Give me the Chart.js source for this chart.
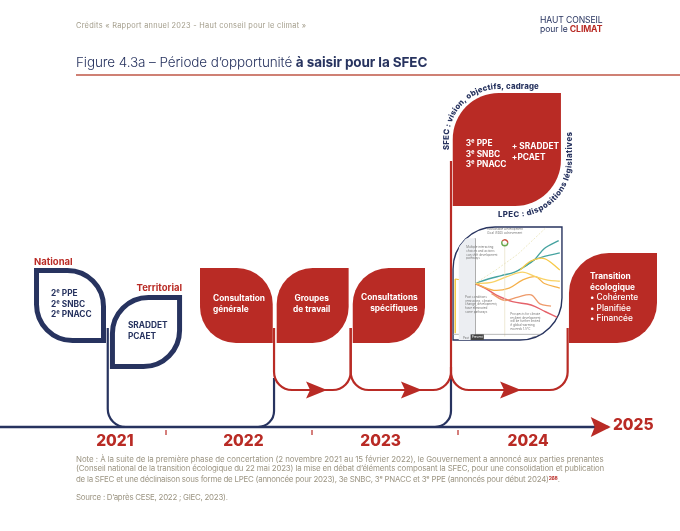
<!DOCTYPE html>
<html lang="fr">
<head>
<meta charset="utf-8">
<title>Figure 4.3a</title>
<script src="https://cdn.jsdelivr.net/npm/chart.js@4"></script>
<style>
    body { margin: 0; background: #fff; font-family: Inter, sans-serif; }
    #page { position: relative; width: 680px; height: 531px; overflow: hidden; }
    #timeline { position: absolute; left: 0; top: 0; }
    #inset {
        position: absolute; left: 453px; top: 227px;
        clip-path: path('M0 113 L0 42 A42 42 0 0 1 42 0 L109 0 L109 71 A42 42 0 0 1 67 113 Z');
    }
    .txt { position: absolute; white-space: nowrap; }
    #credit { left: 76px; top: 21px; font-size: 7.4px; color: #a29c8a; letter-spacing: 0.28px; }
    #logo { left: 540px; top: 16px; font-size: 8.6px; line-height: 9.4px; color: #27335f; letter-spacing: -0.1px; }
    #logo b { color: #b92b25; }
    #title { left: 76px; top: 54px; font-size: 13.5px; color: #27335f; font-weight: 300; letter-spacing: -0.1px; }
    #title b { font-weight: 700; }
    #rule { position: absolute; left: 76px; top: 74px; width: 604px; height: 2px; background: #cf8074; }
    #note { left: 76px; top: 455px; font-size: 7.9px; line-height: 9.3px; color: #9c9583; }
    #note b { color: #b92b25; font-size: 5px; vertical-align: 2.5px; }
    #line1 { letter-spacing: -0.05px; }
    #line2 { letter-spacing: -0.148px; }
    #line3 { letter-spacing: -0.23px; }
    #source { left: 76px; top: 492px; font-size: 7.9px; color: #9c9583; letter-spacing: -0.25px; }
</style>
</head>
<body>
<div id="page">
    <canvas id="timeline" width="680" height="531"></canvas>
    <canvas id="inset" width="109" height="113"></canvas>
    <div class="txt" id="credit">Crédits « Rapport annuel 2023 - Haut conseil pour le climat »</div>
    <div class="txt" id="logo">HAUT CONSEIL<br>pour le <b>CLIMAT</b></div>
    <div class="txt" id="title">Figure 4.3a – Période d’opportunité <b>à saisir pour la SFEC</b></div>
    <div id="rule"></div>
    <div class="txt" id="note"><span id="line1">Note : À la suite de la première phase de concertation (2 novembre 2021 au 15 février 2022), le Gouvernement a annoncé aux parties prenantes</span><br><span id="line2">(Conseil national de la transition écologique du 22 mai 2023) la mise en débat d’éléments composant la SFEC, pour une consolidation et publication</span><br><span id="line3">de la SFEC et une déclinaison sous forme de LPEC (annoncée pour 2023), 3e SNBC, 3ᵉ PNACC et 3ᵉ PPE (annoncés pour début 2024)<b>268</b>.</span></div>
    <div class="txt" id="source">Source : D’après CESE, 2022 ; GIEC, 2023).</div>
</div>
<script>
// timeline values: x is the year, y is the height above the time axis
const yearLabels = ['2021', '2022', '2023', '2024', '2025'];
const yearLabelAt = [2021.65, 2022.53, 2023.47, 2024.48, 2025.2];
const yearTicks = [2022, 2023, 2024];
const axisFrom = 2020.863;
const axisTo = 2025.03;

const leafFrom = [2021.096, 2021.616, 2022.233, 2022.758, 2023.279, 2023.964, 2024.760];
const leafTo = [2021.589, 2022.110, 2022.731, 2023.251, 2023.774, 2024.705, 2025.363];
const leafBase = [84, 58, 84, 84, 84, 221, 84];
const leafTop = [159, 132, 159, 159, 159, 334, 174];
const leafLines = [
    ['2ᵉ PPE', '2ᵉ SNBC', '2ᵉ PNACC'],
    ['SRADDET', 'PCAET'],
    ['Consultation', 'générale'],
    ['Groupes', 'de travail'],
    ['Consultations', 'spécifiques'],
    ['3ᵉ PPE', '3ᵉ SNBC', '3ᵉ PNACC'],
    ['Transition', 'écologique', '• Cohérente', '• Planifiée', '• Financée']
];
const sfecExtra = ['+ SRADDET', '+PCAET'];
const scaleTitles = ['National', 'Territorial'];
const curvedTop = 'SFEC : vision, objectifs, cadrage';
const curvedBottom = 'LPEC : dispositions législatives';

// branches as [year, height] bends
const navyBranches = [
    [[2021.601, 99], [2021.601, 0], [2021.75, 0]],
    [[2022.62, 0], [2022.74, 0], [2022.74, 49]],
    [[2023.84, 0], [2023.952, 0], [2023.952, 52]]
];
const redBranches = [
    [[2022.74, 99], [2022.74, 37], [2023.265, 37], [2023.265, 99]],
    [[2023.265, 99], [2023.265, 37], [2023.952, 37], [2023.952, 266]],
    [[2023.952, 60], [2023.952, 37], [2024.751, 37], [2024.751, 99]]
];
const arrowTips = [2023.103, 2023.753, 2024.432];
const axisArrowTip = 2025.046;

// small pathway figure: x is the year, y an index of development
const pastYears = [2006, 2021];
const pastBand = [90, 90];
const presentLine = [[2021, 0], [2021, 90]];
const sdgLine = [[2048, 3], [2048, 86]];
const windowLine = [[2021, 50], [2040, 62], [2060, 76], [2085, 99]];
const pastLine = [[2003, 54], [2014, 52], [2021, 50]];
const pastStart = [[2003, 6], [2003, 54]];
const baseLine = [[2001, 5], [2100, 5]];
const tealMain = [[2021, 50], [2033, 54], [2045, 57], [2057, 60], [2066, 65], [2075, 71], [2084, 81], [2097, 88]];
const tealSide = [[2066, 65], [2075, 71], [2084, 74], [2098, 77]];
const yellowHigh = [[2062, 62], [2072, 70], [2084, 72], [2098, 62]];
const yellowMid = [[2021, 50], [2036, 51], [2050, 56], [2064, 60], [2076, 56], [2087, 53], [2098, 52]];
const amberMid = [[2021, 50], [2038, 44], [2052, 46], [2064, 53], [2076, 56], [2084, 50], [2098, 46]];
const redMain = [[2021, 50], [2030, 46], [2040, 40], [2055, 34], [2072, 31], [2085, 25], [2098, 19]];
const redLow = [[2036, 41], [2048, 35], [2060, 38], [2072, 40], [2080, 32], [2090, 30]];
const insetNotes = ['Sustainable Development', 'Goal (SDG) achievement'];
const insetChoices = ['Multiple interacting', 'choices and actions', 'can shift development', 'pathways'];
const insetPast = ['Past conditions', '(emissions, climate', 'change, development)', 'have eliminated', 'some pathways'];
const insetRisk = ['Prospects for climate', 'resilient development', 'will be further limited', 'if global warming', 'exceeds 1.5°C'];
const insetAxis = ['Past', 'Present', '2100'];

const navy = '#27335f';
const red = '#b92b25';
const leafOutlined = [true, true, false, false, false, false, false];
const leafRoundsTopLeft = [false, true, false, true, true, true, true];
const leafRadius = [36, 36, 36, 36, 36, 46, 40];
const labelOffset = [[17, 26, 'left'], [18, 31, 'left'], [13, 31, 'left'], [35, 31, 'center'], [65, 30, 'right'], [13, 51, 'left'], [21, 24, 'left']];
const lineGap = [10.5, 11, 11, 11, 11, 10.5, 10.5];
const fontName = 'Inter, sans-serif';

function drawBend(ctx, scales, bends, radius) {
    const pts = bends.map(b => [scales.x.getPixelForValue(b[0]), scales.y.getPixelForValue(b[1])]);
    ctx.beginPath();
    ctx.moveTo(pts[0][0], pts[0][1]);
    for (let i = 1; i < pts.length - 1; i++) {
        ctx.arcTo(pts[i][0], pts[i][1], pts[i + 1][0], pts[i + 1][1], radius);
    }
    ctx.lineTo(pts[pts.length - 1][0], pts[pts.length - 1][1]);
    ctx.stroke();
}

function drawArrow(ctx, tipX, y, length, half) {
    ctx.beginPath();
    ctx.moveTo(tipX, y);
    ctx.lineTo(tipX - length, y - half);
    ctx.lineTo(tipX - length + 4, y);
    ctx.lineTo(tipX - length, y + half);
    ctx.closePath();
    ctx.fill();
}

// lays the text out along a path given by pointAt(distance)
function drawAlong(ctx, text, length, pointAt) {
    const chars = Array.from(text);
    const widths = chars.map(c => ctx.measureText(c).width);
    const used = widths.reduce((a, b) => a + b, 0);
    const gap = (length - used) / (chars.length - 1);
    let s = 0;
    ctx.textAlign = 'center';
    ctx.textBaseline = 'alphabetic';
    chars.forEach((c, i) => {
        const p = pointAt(s + widths[i] / 2);
        ctx.save();
        ctx.translate(p.x, p.y);
        ctx.rotate(p.angle);
        ctx.fillText(c, 0, 0);
        ctx.restore();
        s += widths[i] + gap;
    });
}

const timelinePlugin = {
    id: 'timelineMarks',
    afterDatasetsDraw(chart) {
        const ctx = chart.ctx;
        const scales = chart.scales;
        const px = v => scales.x.getPixelForValue(v);
        const py = v => scales.y.getPixelForValue(v);
        ctx.save();

        // leaves
        leafFrom.forEach((from, i) => {
            const x = px(from), y = py(leafTop[i]);
            const w = px(leafTo[i]) - x, h = py(leafBase[i]) - y;
            const r = leafRadius[i];
            const corners = leafRoundsTopLeft[i] ? [r, 0, r, 0] : [0, r, 0, r];
            ctx.beginPath();
            if (leafOutlined[i]) {
                ctx.roundRect(x + 2.5, y + 2.5, w - 5, h - 5, corners);
                ctx.lineWidth = 5;
                ctx.strokeStyle = navy;
                ctx.stroke();
            } else {
                ctx.roundRect(x, y, w, h, corners);
                ctx.fillStyle = red;
                ctx.fill();
            }
        });

        // frame of the small figure
        ctx.beginPath();
        ctx.roundRect(px(2023.966), py(200), px(2024.712) - px(2023.966), py(87) - py(200), [42, 0, 42, 0]);
        ctx.fillStyle = '#fff';
        ctx.fill();
        ctx.lineWidth = 1.4;
        ctx.strokeStyle = navy;
        ctx.stroke();

        // branches
        ctx.lineWidth = 2.2;
        ctx.strokeStyle = navy;
        navyBranches.forEach((b, i) => drawBend(ctx, scales, b, i === 0 ? 18 : 16));
        ctx.strokeStyle = red;
        redBranches.forEach(b => drawBend(ctx, scales, b, 18));
        ctx.fillStyle = red;
        arrowTips.forEach(t => drawArrow(ctx, px(t), py(37), 21, 8.5));
        drawArrow(ctx, px(axisArrowTip), py(0), 20, 10);

        // leaf labels
        ctx.textBaseline = 'middle';
        leafLines.forEach((lines, i) => {
            const [dx, dy, align] = labelOffset[i];
            ctx.textAlign = align;
            ctx.fillStyle = leafOutlined[i] ? navy : '#fff';
            lines.forEach((line, j) => {
                const plain = i === 6 && j > 1;
                ctx.font = (plain ? '500 ' : '700 ') + '8.3px ' + fontName;
                ctx.fillText(line, px(leafFrom[i]) + dx, py(leafTop[i]) + dy + j * lineGap[i]);
            });
        });
        ctx.textAlign = 'left';
        ctx.fillStyle = '#fff';
        ctx.font = '700 8.3px ' + fontName;
        sfecExtra.forEach((line, j) => ctx.fillText(line, px(leafFrom[5]) + 59, py(leafTop[5]) + 54 + j * 10.5));

        // National / Territorial
        ctx.fillStyle = red;
        ctx.font = '700 9.5px ' + fontName;
        ctx.fillText(scaleTitles[0], px(leafFrom[0]), py(leafTop[0]) - 6);
        ctx.textAlign = 'right';
        ctx.fillText(scaleTitles[1], px(leafTo[1]), py(leafTop[1]) - 7);

        // years
        ctx.font = '800 15.5px ' + fontName;
        ctx.textAlign = 'center';
        yearLabels.forEach((label, i) => {
            ctx.fillText(label, px(yearLabelAt[i]), py(i === 4 ? 2 : -14));
        });

        // text bent around the SFEC leaf
        const sx0 = px(leafFrom[5]), sx1 = px(leafTo[5]);
        const sy0 = py(leafTop[5]), sy1 = py(leafBase[5]);
        const r = leafRadius[5];
        ctx.fillStyle = navy;
        ctx.font = '800 7.8px ' + fontName;
        const topR = r + 4, cx1 = sx0 + r, cy1 = sy0 + r, startUp = sy0 + 57 - cy1;
        const topArc = topR * Math.PI / 2;
        drawAlong(ctx, curvedTop, startUp + topArc + 40, s => {
            if (s < startUp) return { x: cx1 - topR, y: cy1 + startUp - s, angle: -Math.PI / 2 };
            if (s < startUp + topArc) {
                const a = (s - startUp) / topR;
                return { x: cx1 - topR * Math.cos(a), y: cy1 - topR * Math.sin(a), angle: a - Math.PI / 2 };
            }
            return { x: cx1 + s - startUp - topArc, y: cy1 - topR, angle: 0 };
        });
        const lowR = r + 11, cx2 = sx1 - r, cy2 = sy1 - r, lead = 17;
        const lowArc = lowR * Math.PI / 2;
        drawAlong(ctx, curvedBottom, lead + lowArc + 28, s => {
            if (s < lead) return { x: cx2 - lead + s, y: cy2 + lowR, angle: 0 };
            if (s < lead + lowArc) {
                const a = (s - lead) / lowR;
                return { x: cx2 + lowR * Math.sin(a), y: cy2 + lowR * Math.cos(a), angle: -a };
            }
            return { x: cx2 + lowR, y: cy2 - (s - lead - lowArc), angle: -Math.PI / 2 };
        });
        ctx.restore();
    }
};

new Chart(document.getElementById('timeline'), {
    type: 'scatter',
    data: {
        datasets: [
            {
                data: [{ x: axisFrom, y: 0 }, { x: axisTo, y: 0 }],
                showLine: true, borderColor: navy, borderWidth: 2.4, pointRadius: 0
            },
            {
                data: yearTicks.flatMap(t => [{ x: t, y: -3 }, { x: t, y: -8 }, { x: t, y: null }]),
                showLine: true, borderColor: red, borderWidth: 1.2, pointRadius: 0, spanGaps: false
            }
        ]
    },
    options: {
        responsive: false,
        animation: false,
        layout: { padding: 0 },
        plugins: { legend: { display: false }, tooltip: { enabled: false } },
        scales: {
            x: { type: 'linear', display: false, min: 2020.863, max: 2025.5205 },
            y: { type: 'linear', display: false, min: -104, max: 427 }
        }
    },
    plugins: [timelinePlugin]
});

const toPoints = pairs => pairs.map(p => ({ x: p[0], y: p[1] }));
const pathLine = (pairs, color, width, extra) => Object.assign({
    data: toPoints(pairs), showLine: true, borderColor: color, borderWidth: width, pointRadius: 0, tension: 0.35
}, extra);

const insetTextPlugin = {
    id: 'insetText',
    afterDatasetsDraw(chart) {
        const ctx = chart.ctx;
        const px = v => chart.scales.x.getPixelForValue(v);
        const py = v => chart.scales.y.getPixelForValue(v);
        const block = (lines, year, index, align) => {
            ctx.textAlign = align;
            lines.forEach((line, i) => ctx.fillText(line, px(year), py(index) + i * 3.6));
        };
        ctx.save();
        ctx.font = '3px ' + fontName;
        ctx.fillStyle = '#777';
        block(insetNotes, 2048, 97, 'center');
        block(insetChoices, 2013, 81, 'left');
        block(insetPast, 2012, 37, 'left');
        block(insetRisk, 2053, 22, 'left');
        ctx.fillStyle = '#444';
        ctx.fillRect(px(2017), py(5), px(2029) - px(2017), 6);
        ctx.fillStyle = '#777';
        ctx.fillText(insetAxis[0], px(2010), py(1));
        ctx.fillText(insetAxis[2], px(2073), py(1));
        ctx.fillStyle = '#fff';
        ctx.textAlign = 'center';
        ctx.fillText(insetAxis[1], px(2023), py(1.5));
        // SDG wheel
        ctx.lineWidth = 1.4;
        ctx.strokeStyle = '#6aa84f';
        ctx.beginPath();
        ctx.arc(px(2048), py(86), 3, 0, Math.PI * 1.2);
        ctx.stroke();
        ctx.strokeStyle = '#c8503c';
        ctx.beginPath();
        ctx.arc(px(2048), py(86), 3, Math.PI * 1.2, Math.PI * 2);
        ctx.stroke();
        ctx.restore();
    }
};

new Chart(document.getElementById('inset'), {
    type: 'scatter',
    data: {
        datasets: [
            {
                data: pastYears.map((y, i) => ({ x: y, y: pastBand[i] })),
                showLine: true, borderWidth: 0, pointRadius: 0, fill: 'origin', backgroundColor: '#eceef2'
            },
            pathLine(baseLine, '#999', 0.7, { tension: 0 }),
            pathLine(sdgLine, '#e6dfc4', 0.7, { tension: 0 }),
            pathLine(windowLine, '#e9e3b8', 0.8, { borderDash: [2, 1.5], tension: 0 }),
            pathLine(presentLine, '#7c7c7c', 1.2, { tension: 0 }),
            pathLine(pastStart, '#f2c230', 1.4, { tension: 0 }),
            pathLine(pastLine, '#f2c230', 1),
            pathLine(yellowHigh, '#f7c948', 1.3),
            pathLine(yellowMid, '#f9d265', 1.3),
            pathLine(amberMid, '#f5b04a', 1.3),
            pathLine(redLow, '#ee9a6a', 1.3),
            pathLine(redMain, '#e5626a', 1.4),
            pathLine(tealSide, '#46a3a0', 1.3),
            pathLine(tealMain, '#46a3a0', 1.4)
        ]
    },
    options: {
        responsive: false,
        animation: false,
        layout: { padding: 0 },
        plugins: { legend: { display: false }, tooltip: { enabled: false } },
        scales: {
            x: { type: 'linear', display: false, min: 2001, max: 2100 },
            y: { type: 'linear', display: false, min: 0, max: 100 }
        }
    },
    plugins: [insetTextPlugin]
});
</script>
</body>
</html>
